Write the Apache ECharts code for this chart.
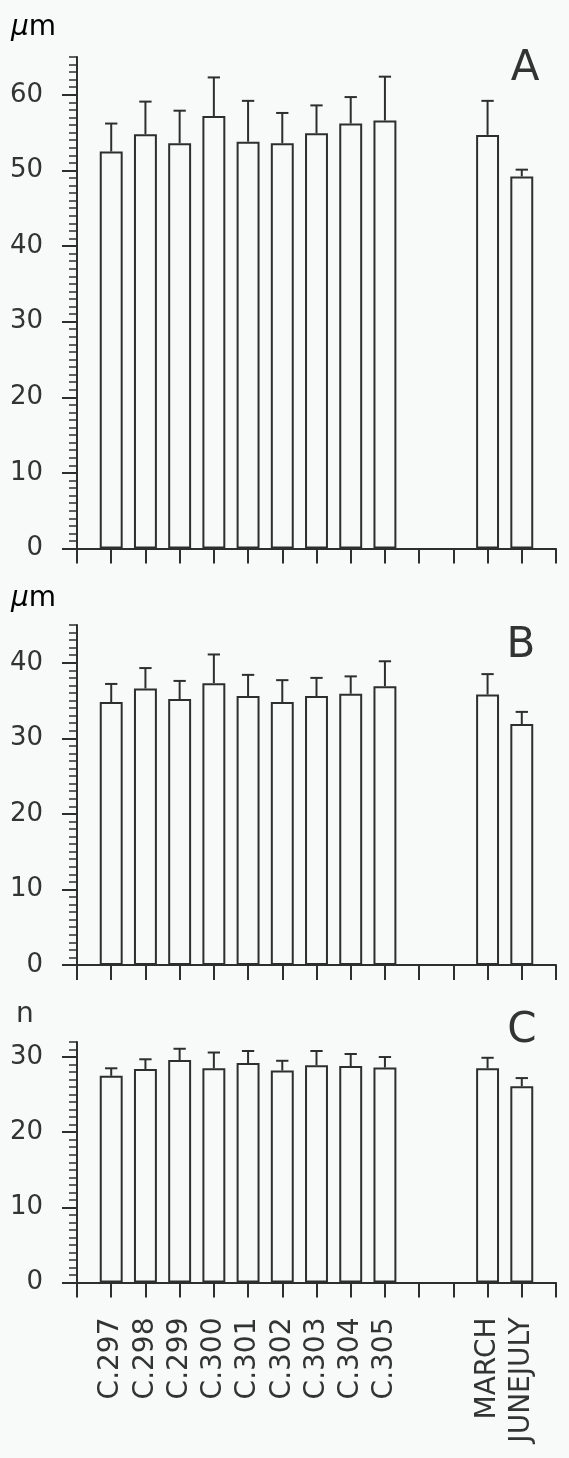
<!DOCTYPE html>
<html><head><meta charset="utf-8">
<script src="https://cdn.jsdelivr.net/npm/echarts@6/dist/echarts.min.js"></script>
<style>html,body{margin:0;padding:0;background:#f8f9f9}#c{width:569px;height:1458px}</style>
</head><body><div id="c"></div>
<script>
// Tick labels of the shared category axis (empty = unlabeled slot)
const tickLabels = ['', 'C.297', 'C.298', 'C.299', 'C.300', 'C.301', 'C.302', 'C.303', 'C.304', 'C.305', '', '', 'MARCH', 'JUNEJULY', ''];

// Panel A (µm)
const meanA = [null, 52.5, 54.8, 53.6, 57.2, 53.8, 53.6, 54.9, 56.2, 56.6, null, null, 54.7, 49.2, null];
const sdA   = [null, 3.7, 4.3, 4.3, 5.1, 5.4, 4.0, 3.7, 3.5, 5.8, null, null, 4.5, 0.9, null];
// Panel B (µm)
const meanB = [null, 34.8, 36.6, 35.2, 37.3, 35.6, 34.8, 35.6, 35.9, 36.9, null, null, 35.8, 31.9, null];
const sdB   = [null, 2.4, 2.7, 2.4, 3.8, 2.8, 2.9, 2.4, 2.3, 3.3, null, null, 2.7, 1.6, null];
// Panel C (n)
const meanC = [null, 27.5, 28.4, 29.6, 28.5, 29.2, 28.2, 28.9, 28.8, 28.6, null, null, 28.5, 26.1, null];
const sdC   = [null, 1.0, 1.3, 1.5, 2.1, 1.6, 1.3, 1.9, 1.6, 1.4, null, null, 1.4, 1.1, null];

// Y axis ranges and labeled ticks
const yMaxA = 65, yMaxB = 45, yMaxC = 32;
const yTicksA = [0, 10, 20, 30, 40, 50, 60];
const yTicksB = [0, 10, 20, 30, 40];
const yTicksC = [0, 10, 20, 30];

const panelLetters = ['A', 'B', 'C'];
const unitMu = '\u03bc', unitM = 'm', unitN = 'n';

const INK = '#2e2e2e';
const FONT = 'DejaVu Sans';
const BG = '#f8f9f9';

const panels = [
  {mean: meanA, sd: sdA, max: yMaxA, ticks: yTicksA, top: 57, height: 491.5},
  {mean: meanB, sd: sdB, max: yMaxB, ticks: yTicksB, top: 625, height: 340},
  {mean: meanC, sd: sdC, max: yMaxC, ticks: yTicksC, top: 1042, height: 240.5}
];

const grid = [], xAxis = [], yAxis = [], series = [];
panels.forEach((p, k) => {
  grid.push({left: 77, width: 479, top: p.top, height: p.height});
  xAxis.push({
    type: 'category', gridIndex: k, data: tickLabels, boundaryGap: false,
    axisLine: {lineStyle: {color: INK, width: 2}},
    axisTick: {show: true, interval: 0, length: 15, lineStyle: {color: INK, width: 2}},
    axisLabel: {show: k === 2, interval: 0, rotate: 90, margin: 35, fontSize: 28, fontFamily: FONT, color: '#333'},
    splitLine: {show: false}
  });
  // minor-tick axis with labels
  yAxis.push({
    type: 'value', gridIndex: k, position: 'left', min: 0, max: p.max, interval: 1,
    axisLine: {show: true, lineStyle: {color: INK, width: 2}},
    axisTick: {show: true, length: 8, lineStyle: {color: INK, width: 1.5}},
    axisLabel: {
      show: true, margin: 34, fontSize: 26, fontFamily: FONT, color: '#333',
      formatter: v => (p.ticks.indexOf(v) >= 0 ? String(v) : '')
    },
    splitLine: {show: false}
  });
  // major-tick axis
  yAxis.push({
    type: 'value', gridIndex: k, position: 'left', offset: 0, min: 0, max: p.max, interval: 10,
    axisLine: {show: false},
    axisTick: {show: true, length: 15, customValues: p.ticks, lineStyle: {color: INK, width: 2}},
    axisLabel: {show: false},
    splitLine: {show: false}
  });
  series.push({
    type: 'bar', xAxisIndex: k, yAxisIndex: 2 * k, barWidth: '67%',
    data: p.mean.map(v => (v == null ? '-' : v)),
    itemStyle: {color: BG, borderColor: INK, borderWidth: 2},
    silent: true, animation: false
  });
  const errData = [];
  p.mean.forEach((m, i) => { if (m != null) errData.push([i, m, p.sd[i]]); });
  series.push({
    type: 'custom', xAxisIndex: k, yAxisIndex: 2 * k, data: errData, z: 5,
    silent: true, animation: false,
    renderItem: function (params, api) {
      const i = api.value(0), m = api.value(1), s = api.value(2);
      const base = api.coord([i, m]);
      const top = api.coord([i, m + s]);
      const hw = api.size([1, 0])[0] * 0.18;
      const st = {stroke: INK, lineWidth: 2};
      return {type: 'group', children: [
        {type: 'line', shape: {x1: base[0], y1: base[1], x2: top[0], y2: top[1]}, style: st},
        {type: 'line', shape: {x1: top[0] - hw, y1: top[1], x2: top[0] + hw, y2: top[1]}, style: st}
      ]};
    }
  });
});

const unitRich = {
  mu: {fontFamily: FONT, fontStyle: 'italic', fontSize: 28, color: '#333'},
  m: {fontFamily: FONT, fontSize: 28, color: '#333'}
};
const letterStyle = (t) => ({text: t, font: '42px "' + FONT + '"', fill: '#333', align: 'center', verticalAlign: 'middle'});
const graphic = [
  {type: 'text', x: 525, y: 69, style: letterStyle(panelLetters[0])},
  {type: 'text', x: 521, y: 646, style: letterStyle(panelLetters[1])},
  {type: 'text', x: 522, y: 1031, style: letterStyle(panelLetters[2])},
  {type: 'text', x: 11, y: 28, style: {text: '{mu|' + unitMu + '}{m|' + unitM + '}', rich: unitRich, align: 'left', verticalAlign: 'middle'}},
  {type: 'text', x: 11, y: 599, style: {text: '{mu|' + unitMu + '}{m|' + unitM + '}', rich: unitRich, align: 'left', verticalAlign: 'middle'}},
  {type: 'text', x: 16, y: 1015, style: {text: unitN, font: '28px "' + FONT + '"', fill: '#333', align: 'left', verticalAlign: 'middle'}}
];

const chart = echarts.init(document.getElementById('c'), null, {renderer: 'canvas'});
chart.setOption({
  backgroundColor: BG,
  animation: false,
  grid, xAxis, yAxis, series, graphic
});
</script>
</body></html>
